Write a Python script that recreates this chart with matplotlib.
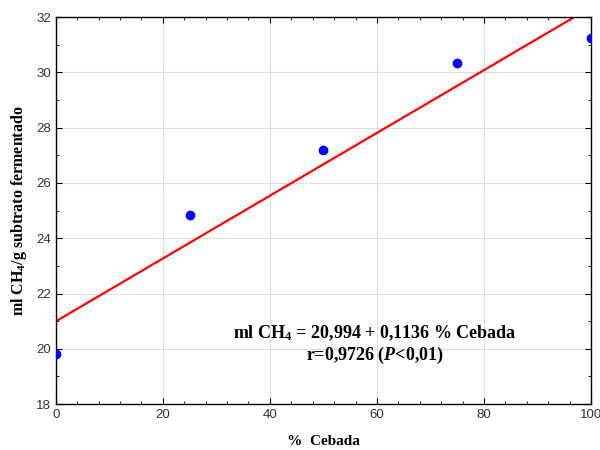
import numpy as np
import matplotlib
matplotlib.use("Agg")
import matplotlib.pyplot as plt
from matplotlib.ticker import MultipleLocator

plt.rcParams['mathtext.fontset'] = 'custom'
plt.rcParams['mathtext.rm'] = 'Liberation Serif:bold'
plt.rcParams['mathtext.bf'] = 'Liberation Serif:bold'
plt.rcParams['mathtext.it'] = 'Liberation Serif:italic:bold'

# % cebada vs ml CH4 / g substrato
cebada = [0, 25, 50, 75, 100]
ch4 = [19.82, 24.85, 27.2, 30.34, 31.24]
intercept = 20.994
slope = 0.1136

fig = plt.figure(figsize=(6, 4.5), dpi=100)
ax = fig.add_axes([0.093, 0.102, 0.892, 0.86])

xs = np.array([0, 100])
ax.plot(xs, intercept + slope * xs, color='red', lw=1.6, zorder=2)
ax.plot(cebada, ch4, 'o', color='#0000ff', ms=6, zorder=3)

ax.set_xlim(0, 100)
ax.set_ylim(18, 32)
ax.xaxis.set_major_locator(MultipleLocator(20))
ax.xaxis.set_minor_locator(MultipleLocator(4))
ax.yaxis.set_major_locator(MultipleLocator(2))
ax.yaxis.set_minor_locator(MultipleLocator(1))
ax.grid(True, which='major', color='#dddddd', lw=0.8, zorder=0)
ax.set_axisbelow(True)
ax.tick_params(which='both', direction='in', top=True, right=True,
               labelsize=9.5, labelcolor='#333333', labelfontfamily='Liberation Sans')
ax.tick_params(which='major', length=4)
ax.tick_params(which='minor', length=2)
for s in ax.spines.values():
    s.set_linewidth(1.0)

ax.set_xlabel('%  Cebada', fontfamily='Liberation Serif', fontweight='bold',
              fontsize=11, labelpad=10)
ax.set_ylabel(r'ml CH$_{4}$/g subtrato fermentado', fontfamily='Liberation Serif',
              fontweight='bold', fontsize=11.5, labelpad=5)

ax.text(59.6, 20.57, r'ml CH$_{4}$ = 20,994 + 0,1136 % Cebada', ha='center', va='center',
        fontfamily='Liberation Serif', fontweight='bold', fontsize=13)
ax.text(59.6, 19.77, r'r=0,9726 ($P$<0,01)', ha='center', va='center',
        fontfamily='Liberation Serif', fontweight='bold', fontsize=13)

fig.savefig('out.png', dpi=100)
